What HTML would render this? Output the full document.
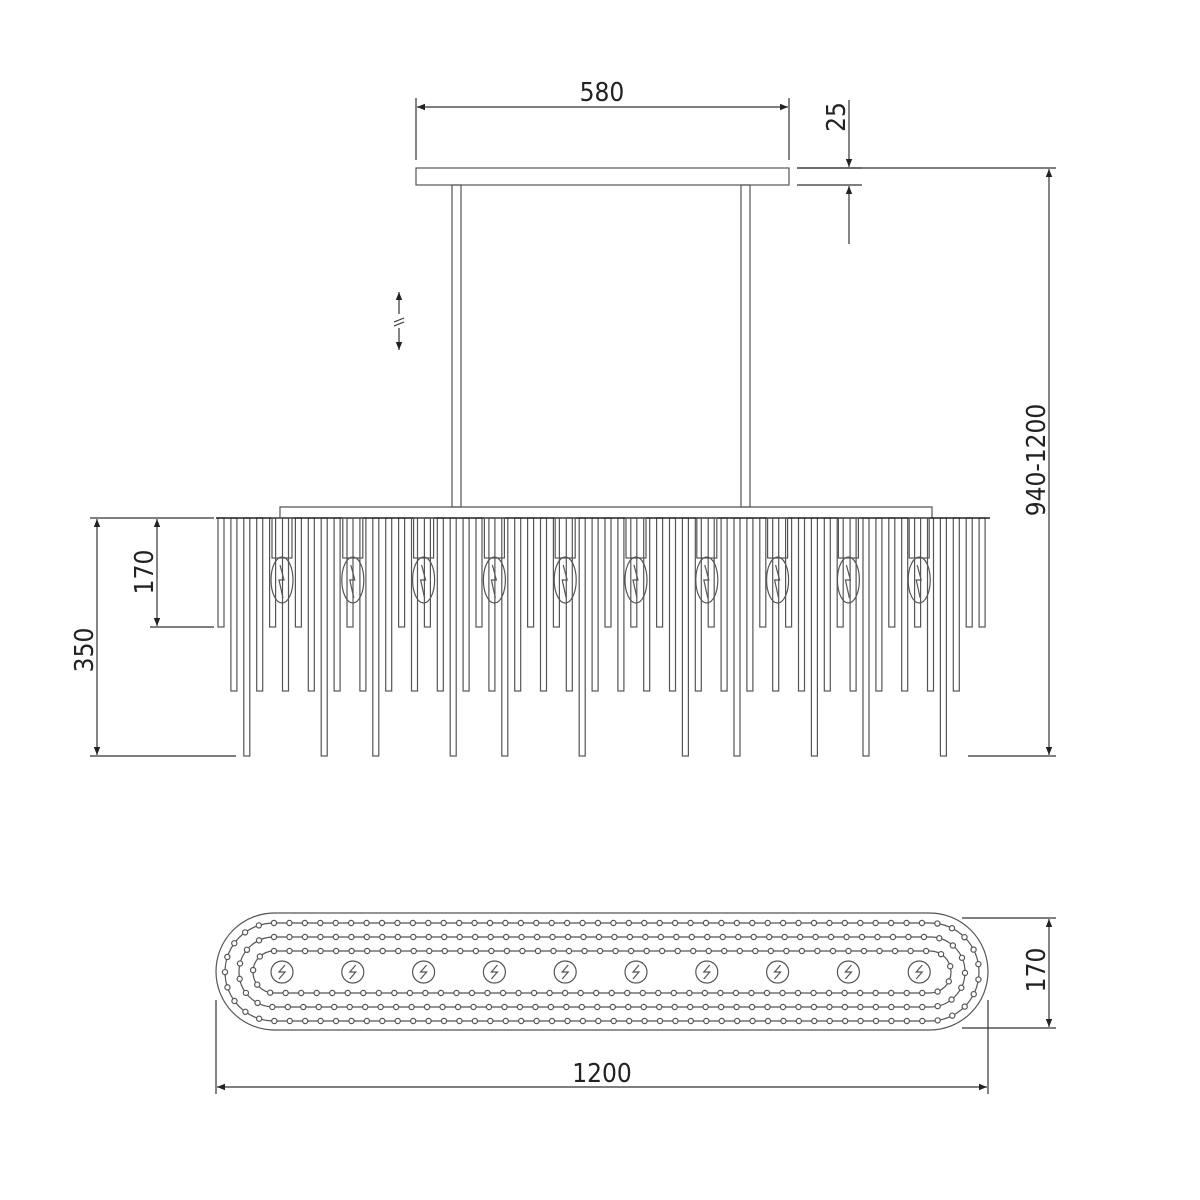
<!DOCTYPE html>
<html><head><meta charset="utf-8"><style>
html,body{margin:0;padding:0;background:#fff}
svg{display:block}
text{font-family:"DejaVu Sans Condensed","Liberation Sans",sans-serif;font-size:26px;fill:#222}
</style></head><body>
<svg id="s" width="1200" height="1200" viewBox="0 0 1200 1200" xmlns="http://www.w3.org/2000/svg">
<defs>
<marker id="a" viewBox="0 0 10 10" refX="10" refY="5" markerWidth="14" markerHeight="8" markerUnits="userSpaceOnUse" orient="auto-start-reverse"><path d="M0,1 L10,5 L0,9z" fill="#222"/></marker>
</defs>
<g stroke="#555" stroke-width="1.2" fill="none">
<rect x="416" y="168" width="373" height="17"/>
<rect x="452" y="185" width="9" height="322"/>
<rect x="741" y="185" width="9" height="322"/>
<polyline points="280,518 280,507 932,507 932,518"/>
<g id="rods"></g>
<line x1="216" y1="518" x2="990" y2="518" stroke="#222" stroke-width="1.6"/>
<g id="bulbs"></g>
<rect x="216" y="913" width="772" height="117" rx="58.5" ry="58.5"/>
<g id="tracks"></g>
<g id="icons"></g>
</g>
<g stroke="#333" stroke-width="1.2" fill="none">
<line x1="416" y1="98" x2="416" y2="160"/><line x1="789" y1="98" x2="789" y2="160"/>
<line x1="417" y1="107" x2="788" y2="107" marker-start="url(#a)" marker-end="url(#a)"/>
<line x1="797" y1="168" x2="862" y2="168"/><line x1="797" y1="185" x2="862" y2="185"/>
<line x1="849" y1="100" x2="849" y2="167" marker-end="url(#a)"/>
<line x1="849" y1="244" x2="849" y2="186" marker-end="url(#a)"/>
<line x1="797" y1="168" x2="1056" y2="168"/>
<line x1="968" y1="756" x2="1056" y2="756"/>
<line x1="1049" y1="169" x2="1049" y2="755" marker-start="url(#a)" marker-end="url(#a)"/>
<line x1="90" y1="518" x2="214" y2="518"/><line x1="90" y1="756" x2="236" y2="756"/>
<line x1="97" y1="519" x2="97" y2="755" marker-start="url(#a)" marker-end="url(#a)"/>
<line x1="150" y1="627" x2="214" y2="627"/>
<line x1="157" y1="519" x2="157" y2="626" marker-start="url(#a)" marker-end="url(#a)"/>
<line x1="399" y1="292" x2="399" y2="314" marker-start="url(#a)"/>
<line x1="399" y1="328" x2="399" y2="350" marker-end="url(#a)"/>
<line x1="394" y1="322" x2="404" y2="318"/><line x1="394" y1="326" x2="404" y2="322"/>
<line x1="962" y1="918" x2="1056" y2="918"/><line x1="962" y1="1028" x2="1056" y2="1028"/>
<line x1="1049" y1="919" x2="1049" y2="1027" marker-start="url(#a)" marker-end="url(#a)"/>
<line x1="216" y1="1000" x2="216" y2="1094"/><line x1="988" y1="1000" x2="988" y2="1094"/>
<line x1="217" y1="1087" x2="987" y2="1087" marker-start="url(#a)" marker-end="url(#a)"/>
</g>
<text x="602" y="101" text-anchor="middle">580</text>
<text transform="translate(845,117) rotate(-90)" text-anchor="middle">25</text>
<text transform="translate(1045,460) rotate(-90)" text-anchor="middle">940-1200</text>
<text transform="translate(93,650) rotate(-90)" text-anchor="middle">350</text>
<text transform="translate(153,572) rotate(-90)" text-anchor="middle">170</text>
<text transform="translate(1045,970) rotate(-90)" text-anchor="middle">170</text>
<text x="602" y="1082" text-anchor="middle">1200</text>
</svg>
<script>
var NS="http://www.w3.org/2000/svg";
function el(p,t,a){var e=document.createElementNS(NS,t);for(var k in a)e.setAttribute(k,a[k]);p.appendChild(e);return e;}
var types="SMLMSMSMLMSMLMSMSMLMSMLMSMSMLMSMSMSMLMSMLMSMSMLMSMLMSMSMLMS";
var rods=document.getElementById("rods");
for(var i=0;i<60;i++){var x=221+i*12.9;var t=types[i]||"S";var b=t=="S"?627:t=="M"?691:756;
el(rods,"rect",{x:(x-3).toFixed(1),y:518,width:6,height:b-518,fill:"#fff"});}
var bulbs=document.getElementById("bulbs"),icons=document.getElementById("icons");
for(var j=0;j<10;j++){var cx=282+j*70.8;
el(bulbs,"rect",{x:cx-10,y:518,width:20,height:40});
el(bulbs,"ellipse",{cx:cx,cy:580,rx:11,ry:23});
el(bulbs,"polyline",{points:(cx-2)+",565 "+(cx+2)+",580 "+(cx-3)+",580 "+(cx+1)+",598"});
el(icons,"circle",{cx:cx,cy:972,r:11});
el(icons,"polyline",{points:(cx+3)+",965 "+(cx-3)+",972 "+(cx+3)+",972 "+(cx-3)+",979"});}
var tr=document.getElementById("tracks");
[49,35,21].forEach(function(r){var l=274,rr=930,cy=972;
var d="M"+l+","+(cy-r)+" L"+rr+","+(cy-r)+" A"+r+","+r+" 0 0 1 "+rr+","+(cy+r)+" L"+l+","+(cy+r)+" A"+r+","+r+" 0 0 1 "+l+","+(cy-r)+"Z";
var p=el(tr,"path",{d:d});var L=p.getTotalLength();var n=Math.round(L/15.5);
for(var k=0;k<n;k++){var pt=p.getPointAtLength(k*L/n);el(tr,"circle",{cx:pt.x,cy:pt.y,r:2.6,fill:"#fff"});}});
</script>
</body></html>
